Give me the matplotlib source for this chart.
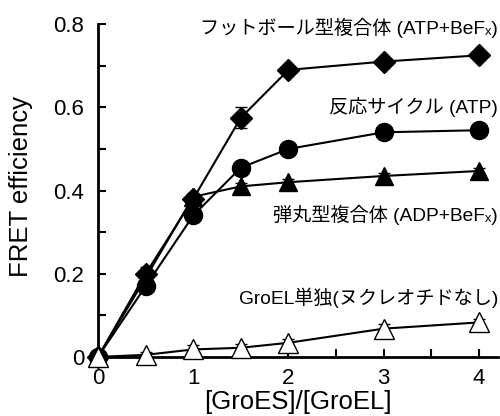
import numpy as np
import matplotlib
matplotlib.use('Agg')
import matplotlib.pyplot as plt

plt.rcParams['font.family'] = ['Liberation Sans', 'Noto Sans CJK JP', 'DejaVu Sans']

# [GroES]/[GroEL] ratio
ratio = [0, 0.5, 1, 1.5, 2, 3, 4]

# FRET efficiency for each condition
football = [0.0, 0.20, 0.38, 0.575, 0.69, 0.71, 0.725]
football_err = [0.0, 0.015, 0.01, 0.025, 0.01, 0.008, 0.008]
cycle = [0.0, 0.17, 0.34, 0.455, 0.50, 0.54, 0.545]
cycle_err = [0.0, 0.01, 0.01, 0.01, 0.01, 0.008, 0.008]
bullet = [0.0, 0.19, 0.385, 0.41, 0.42, 0.435, 0.447]
bullet_err = [0.0, 0.01, 0.01, 0.008, 0.008, 0.008, 0.008]
groel = [0.0, 0.005, 0.018, 0.022, 0.034, 0.068, 0.083]
groel_err = [0.0, 0.008, 0.01, 0.01, 0.01, 0.012, 0.008]

labels = ['フットボール型複合体 (ATP+BeFₓ)',
          '反応サイクル (ATP)',
          '弾丸型複合体 (ADP+BeFₓ)',
          'GroEL単独(ヌクレオチドなし)']
label_y = [0.79, 0.60, 0.342, 0.142]

fig = plt.figure(figsize=(5, 4.16), dpi=100)
ax = fig.add_axes([0.196, 0.142, 0.80, 0.80])

kw = dict(color='black', lw=1.5, capsize=4, elinewidth=1.3, clip_on=False, zorder=3)
ax.errorbar(ratio, football, yerr=football_err, marker='D', ms=11, mfc='black', **kw)
ax.errorbar(ratio, cycle, yerr=cycle_err, marker='o', ms=13, mfc='black', **kw)
ax.errorbar(ratio, bullet, yerr=bullet_err, marker='^', ms=13, mfc='black', **kw)
ax.errorbar(ratio, groel, yerr=groel_err, marker='^', ms=14, mfc='white', mec='black', mew=1.0, **kw)

for t, yy in zip(labels, label_y):
    ax.text(4.2, yy, t, ha='right', va='center', fontsize=13.8,
            family=['Liberation Sans', 'Noto Sans CJK JP', 'DejaVu Sans'])

ax.set_xlim(0, 4.2)
ax.set_ylim(0, 0.8)
ax.set_xticks([0, 1, 2, 3, 4])
ax.set_xticks(np.arange(0, 4.01, 0.5), minor=True)
ax.set_yticks([0, 0.2, 0.4, 0.6, 0.8])
ax.set_yticklabels(['0', '0.2', '0.4', '0.6', '0.8'])
ax.set_yticks(np.arange(0, 0.81, 0.1), minor=True)
ax.tick_params(direction='in', which='both', labelsize=16, width=1.5, length=6)
ax.tick_params(axis='x', pad=8)
ax.tick_params(axis='y', pad=10)
for s in ['top', 'right']:
    ax.spines[s].set_visible(False)
for s in ['left', 'bottom']:
    ax.spines[s].set_linewidth(2)

ax.set_ylabel('FRET efficiency', fontsize=18.5)
ax.set_xlabel('[GroES]/[GroEL]', fontsize=18.5)
ax.yaxis.set_label_coords(-0.163, 0.513)
ax.xaxis.set_label_coords(0.5, -0.098)

fig.savefig('out.png', dpi=100)
